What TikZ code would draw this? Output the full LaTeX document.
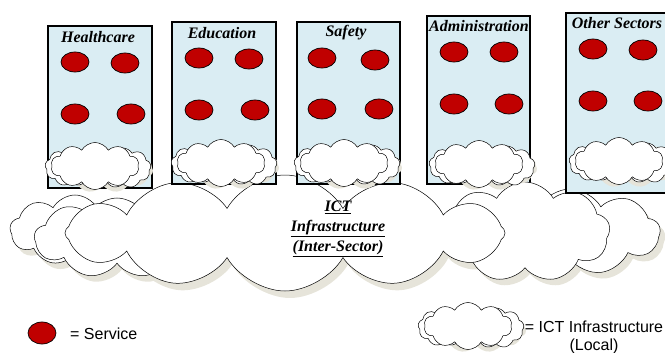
\documentclass[tikz,border=0pt]{standalone}
\usepackage{fontspec}
\setmainfont{Liberation Serif}
\setsansfont{Liberation Sans}
\usetikzlibrary{shapes.symbols,shapes.geometric}

\definecolor{panel}{HTML}{DAEDF3}
\definecolor{svc}{HTML}{C00000}
\definecolor{cloudshade}{HTML}{E6E4DA}

\tikzset{
  sector/.style={draw=black, line width=1.6pt, fill=panel, rectangle, inner sep=0pt, anchor=north west},
  sectorlabel/.style={font=\fontsize{16}{18}\selectfont\bfseries\itshape, inner sep=0pt},
  service/.style={ellipse, draw=black, line width=0.7pt, fill=svc,
                  minimum width=28pt, minimum height=20pt, inner sep=0pt},
  puffy/.style={cloud, cloud ignores aspect, cloud puff arc=120, draw=black, line width=0.5pt, fill=white, inner sep=0pt},
  puffshade/.style={cloud, cloud ignores aspect, cloud puff arc=120, fill=cloudshade, draw=none, inner sep=0pt},
  legendtext/.style={font=\sffamily\fontsize{16}{18}\selectfont, inner sep=0pt},
  localcloud/.pic={
    \node[puffshade, cloud puffs=11, minimum width=100pt, minimum height=45pt] (-shade) at (5,4) {};
    \node[puffy, cloud puffs=9, minimum width=52pt, minimum height=38pt] (-left) at (-27,1) {};
    \node[puffy, cloud puffs=9, minimum width=56pt, minimum height=40pt] (-right) at (25,2) {};
    \node[puffy, cloud puffs=10, minimum width=88pt, minimum height=47pt] (-front) at (-3,0) {};
  },
}

\begin{document}
\begin{tikzpicture}[x=1pt,y=-1pt]
  \useasboundingbox (0,0) rectangle (665,353);

  % sector panel that sits behind the shared network
  \node[sector, minimum width=103pt, minimum height=168pt] (adm) at (426,15) {};

  % shared (inter-sector) network cloud: shadows first, then the layered outlines
  \node[puffshade, cloud puffs=9, minimum width=130pt, minimum height=70pt] (net-a-shade) at (80,236) {};
  \node[puffshade, cloud puffs=9, minimum width=180pt, minimum height=86pt] (net-e-shade) at (575,238) {};
  \node[puffshade, cloud puffs=9, minimum width=165pt, minimum height=80pt] (net-b-shade) at (122,244) {};
  \node[puffshade, cloud puffs=9, minimum width=170pt, minimum height=100pt] (net-d-shade) at (530,238) {};
  \node[puffshade, cloud puffs=12, minimum width=440pt, minimum height=116pt] (net-c-shade) at (290,240) {};
  \node[puffy, cloud puffs=9, minimum width=130pt, minimum height=70pt] (net-a) at (75,230) {};
  \node[puffy, cloud puffs=9, minimum width=180pt, minimum height=86pt] (net-e) at (570,232) {};
  \node[puffy, cloud puffs=9, minimum width=165pt, minimum height=80pt] (net-b) at (117,238) {};
  \node[puffy, cloud puffs=9, minimum width=170pt, minimum height=100pt] (net-d) at (525,232) {};
  \node[puffy, cloud puffs=12, minimum width=440pt, minimum height=116pt] (net-c) at (285,233) {};
  \node[font=\fontsize{16}{20}\selectfont\bfseries\itshape, align=center, inner sep=0pt] (net-text) at (338,229)
    {\underline{ICT}\\\underline{Infrastructure}\\\underline{(Inter-Sector)}};

  % remaining sector panels
  \node[sector, minimum width=104pt, minimum height=162pt] (hc) at (47,25) {};
  \node[sector, minimum width=104pt, minimum height=162pt] (edu) at (171,21) {};
  \node[sector, minimum width=103pt, minimum height=162pt] (saf) at (296,21) {};
  \node[sector, minimum width=110pt, minimum height=180pt] (oth) at (565,12) {};

  % panel titles
  \node[sectorlabel] (hc-title)  at (98,37)  {Healthcare};
  \node[sectorlabel] (edu-title) at (222,33) {Education};
  \node[sectorlabel] (saf-title) at (346,33) {Safety};
  \node[sectorlabel] (adm-title) at (479,26) {Administration};
  \node[sectorlabel] (oth-title) at (617,23) {Other Sectors};

  % services
  \node[service] (hc-s1) at (75,62) {};   \node[service] (hc-s2) at (125,63) {};
  \node[service] (hc-s3) at (75,114) {};  \node[service] (hc-s4) at (131,114) {};
  \node[service] (edu-s1) at (199,58) {}; \node[service] (edu-s2) at (249,59) {};
  \node[service] (edu-s3) at (199,110) {};\node[service] (edu-s4) at (255,110) {};
  \node[service] (saf-s1) at (322,58) {}; \node[service] (saf-s2) at (375,60) {};
  \node[service] (saf-s3) at (322,109) {};\node[service] (saf-s4) at (379,109) {};
  \node[service] (adm-s1) at (454,52) {}; \node[service] (adm-s2) at (504,52) {};
  \node[service] (adm-s3) at (454,104) {};\node[service] (adm-s4) at (509,104) {};
  \node[service] (oth-s1) at (593,49) {}; \node[service] (oth-s2) at (643,50) {};
  \node[service] (oth-s3) at (593,101) {};\node[service] (oth-s4) at (648,101) {};

  % local infrastructure clouds
  \pic (hc-net)  at (98,166)  {localcloud};
  \pic (edu-net) at (224,163) {localcloud};
  \pic (saf-net) at (347,163) {localcloud};
  \pic (adm-net) at (482,164) {localcloud};
  \pic (oth-net) at (622,161) {localcloud};

  % key
  \node[service, minimum width=28pt, minimum height=22pt] (key-svc) at (42,333) {};
  \node[legendtext, anchor=west] (key-svc-text) at (70,334) {= Service};
  \pic (key-net) at (471,326) {localcloud};
  \node[legendtext, align=center] (key-net-text) at (594,337) {= ICT Infrastructure\\(Local)};
\end{tikzpicture}
\end{document}
